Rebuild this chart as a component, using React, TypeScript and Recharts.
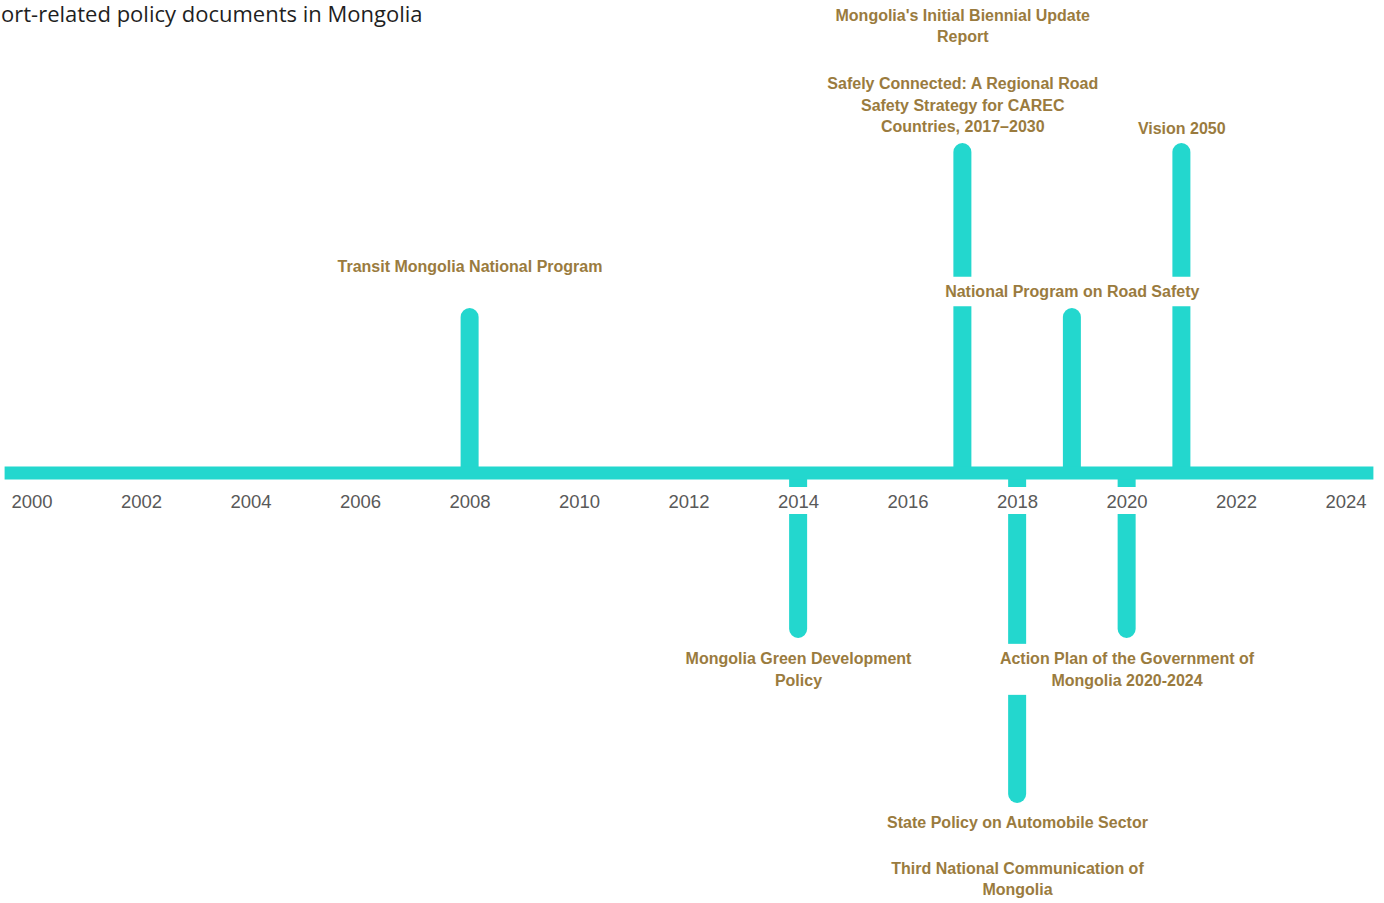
import React from 'react';
import { ComposedChart, Bar, Scatter, XAxis, YAxis, ReferenceLine } from 'recharts';

const eventYears = [2008, 2014, 2017, 2018, 2019, 2020, 2021];
const stemLengths = [1, -1, 2, -2, 1, -1, 2];

const labelYears = [2008, 2014, 2017, 2017, 2018, 2018, 2019, 2020, 2021];
const labelLevels = [1.25, -1.19, 2.23, 2.71, -2.12, -2.46, 1.1, -1.19, 2.09];
const labelTexts = [
  ['Transit Mongolia National Program'],
  ['Mongolia Green Development', 'Policy'],
  ['Safely Connected: A Regional Road', 'Safety Strategy for CAREC', 'Countries, 2017–2030'],
  ["Mongolia's Initial Biennial Update", 'Report'],
  ['State  Policy on Automobile Sector'],
  ['Third National Communication of', 'Mongolia'],
  ['National Program  on Road Safety'],
  ['Action Plan of the Government of', 'Mongolia 2020-2024'],
  ['Vision 2050'],
];

const tickYears = [2000, 2002, 2004, 2006, 2008, 2010, 2012, 2014, 2016, 2018, 2020, 2022, 2024];

const TEAL = '#23D7CE';
const GOLD = '#9A7B3E';
const WIDTH = 1384;
const HEIGHT = 903;
const Y_MIN = -2.6;
const Y_MAX = 2.8;
const AXIS_H = 1;
const MARGIN = { top: 11, right: 10.6, bottom: 0, left: 4.6 };
const ZERO_Y =
  MARGIN.top + ((HEIGHT - MARGIN.top - MARGIN.bottom - AXIS_H) * Y_MAX) / (Y_MAX - Y_MIN);
const LINE_H = 21.5;

const stemData = eventYears.map((year, i) => ({ year, stem: stemLengths[i] }));
const labelData = labelYears.map((year, i) => ({ year, level: labelLevels[i], lines: labelTexts[i] }));

const YearTick = (props: any) => {
  const { x, payload } = props;
  return (
    <g>
      <rect x={x - 28} y={ZERO_Y + 14} width={56} height={27} fill="#fff" />
      <text
        x={x}
        y={ZERO_Y + 28}
        textAnchor="middle"
        dominantBaseline="central"
        fill="#595959"
        fontSize={18.5}
        fontFamily="'Liberation Sans', Arial, sans-serif"
      >
        {payload.value}
      </text>
    </g>
  );
};

const EventLabel = (props: any) => {
  const { cx, cy, payload } = props;
  const lines: string[] = payload.lines;
  const longest = Math.max(...lines.map((l) => l.length));
  const w = longest * 8 + 16;
  const h = lines.length * LINE_H + 8;
  const firstY = cy - ((lines.length - 1) * LINE_H) / 2;
  return (
    <g>
      <rect x={cx - w / 2} y={cy - h / 2} width={w} height={h} fill="#fff" />
      <text
        textAnchor="middle"
        fill={GOLD}
        fontSize={16}
        fontWeight="bold"
        fontFamily="'Liberation Sans', Arial, sans-serif"
      >
        {lines.map((line, i) => (
          <tspan key={i} x={cx} y={firstY + i * LINE_H} dominantBaseline="central">
            {line}
          </tspan>
        ))}
      </text>
    </g>
  );
};

const App: React.FC = () => {
  return (
    <div style={{ position: 'absolute', left: 0, top: 0, width: WIDTH, height: HEIGHT, background: '#fff' }}>
      <ComposedChart width={WIDTH} height={HEIGHT} data={stemData} margin={MARGIN}>
        <YAxis type="number" domain={[Y_MIN, Y_MAX]} hide />
        <ReferenceLine y={0} stroke={TEAL} strokeWidth={13} />
        <Bar dataKey="stem" fill={TEAL} barSize={18} radius={[9, 9, 0, 0]} isAnimationActive={false} />
        <XAxis
          dataKey="year"
          type="number"
          domain={[1999.5, 2024.5]}
          ticks={tickYears}
          interval={0}
          height={AXIS_H}
          axisLine={false}
          tickLine={false}
          tick={<YearTick />}
        />
        <Scatter data={labelData} dataKey="level" shape={<EventLabel />} isAnimationActive={false} />
      </ComposedChart>
      <div
        style={{
          position: 'absolute',
          left: 1,
          top: 0,
          fontFamily: "'Open Sans', sans-serif",
          fontSize: 22,
          lineHeight: '26px',
          color: '#1f1f1f',
          whiteSpace: 'nowrap',
        }}
      >
        ort-related policy documents in Mongolia
      </div>
    </div>
  );
};

export default App;
